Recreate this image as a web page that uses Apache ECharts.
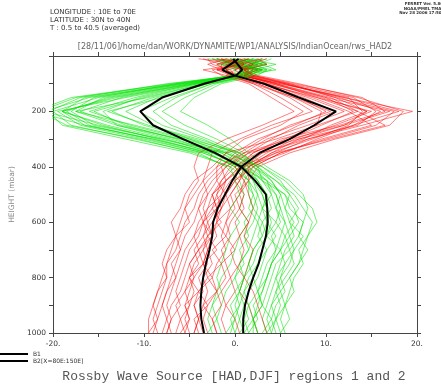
<!DOCTYPE html>
<html><head><meta charset="utf-8">
<script src="https://cdn.jsdelivr.net/npm/echarts@6/dist/echarts.min.js"></script>
<style>html,body{margin:0;padding:0;background:#fff}#c{width:441px;height:384px}</style>
</head><body><div id="c"></div>
<script>
// pressure levels (mbar)
var levels = [10, 30, 50, 70, 100, 150, 200, 250, 300, 350, 400, 450, 500, 550, 600, 650, 700, 750, 800, 850, 900, 950, 1000];
// black mean profiles
var b1 = [0.4, -0.5, -1.4, -0.1, 3.2, 7.0, 11.1, 8.7, 6.0, 2.7, 0.7, -0.3, -1.1, -1.9, -2.4, -2.5, -2.8, -3.2, -3.5, -3.7, -3.8, -3.7, -3.4];
var b2 = [-0.2, 0.3, 0.8, 0.1, -3.4, -8.0, -10.4, -9.0, -5.7, -2.2, 0.7, 2.2, 3.4, 3.55, 3.6, 3.4, 3.0, 2.6, 2.0, 1.5, 1.1, 0.9, 0.9];
// individual red profiles
var redMembers = [
 [-1.5, 1.0, -2.0, 0.5, 5.0, 12.0, 19.5, 14.0, 8.0, 3.0, 0.5, -1.0, -2.5, -3.0, -4.0, -4.5, -5.5, -6.0, -6.5, -7.5, -8.0, -8.5, -9.0],
 [2.0, -1.0, 1.5, 1.0, 4.0, 9.5, 14.5, 12.0, 7.0, 4.0, 1.5, 0.0, -1.0, -1.5, -2.5, -2.0, -3.0, -3.5, -3.0, -4.0, -4.5, -4.0, -4.5],
 [-3.0, -2.5, -0.5, 0.0, 3.0, 7.0, 10.0, 6.5, 2.5, 0.0, -1.5, -3.0, -4.0, -4.5, -5.5, -6.0, -6.5, -7.5, -8.0, -8.5, -9.0, -9.5, -9.5],
 [1.0, 3.0, 0.5, 2.0, 6.0, 11.0, 17.5, 15.5, 10.0, 5.0, 2.0, 1.0, 0.5, 1.0, 0.0, 0.5, -0.5, 0.0, 1.0, 0.5, 1.5, 2.0, 2.5],
 [-0.5, 0.5, -3.5, -1.0, 2.5, 6.0, 8.5, 4.0, 0.5, -2.5, -3.0, -3.5, -3.0, -4.0, -3.5, -4.5, -4.0, -5.0, -4.5, -5.5, -5.0, -6.0, -5.5],
 [3.5, 1.5, 2.0, 0.5, 4.5, 10.0, 13.0, 9.5, 6.0, 2.5, 0.0, -1.5, -2.0, -2.5, -3.5, -3.0, -4.0, -5.0, -5.5, -6.0, -7.0, -7.5, -7.0],
 [0.0, -1.5, 1.0, 2.5, 7.0, 13.5, 18.5, 17.0, 11.0, 6.0, 2.5, 1.5, 0.5, -0.5, -1.0, -1.5, -1.0, -2.0, -2.5, -2.0, -3.0, -3.5, -3.0],
 [-2.0, 2.5, -1.0, 0.0, 3.5, 8.0, 12.0, 8.0, 3.5, 1.0, -1.0, -2.5, -3.5, -4.0, -4.5, -5.5, -6.0, -6.5, -7.0, -7.5, -8.0, -7.5, -8.0],
 [1.5, 0.0, 3.0, 1.5, 5.5, 11.5, 16.0, 13.0, 9.0, 5.5, 1.0, 0.5, -0.5, 0.0, -1.0, -0.5, -1.5, -1.0, -0.5, -1.5, -1.0, 0.0, 0.5],
 [-1.0, -3.0, -1.5, -0.5, 2.0, 5.0, 7.5, 5.0, 1.0, -1.0, -2.0, -2.0, -3.0, -3.5, -3.0, -3.5, -4.5, -4.0, -5.0, -4.5, -5.0, -5.5, -5.0],
 [2.5, 2.0, 0.0, 1.0, 4.5, 9.0, 15.0, 11.0, 6.5, 3.5, 1.0, -0.5, -1.5, -2.0, -2.0, -2.5, -3.0, -2.5, -3.5, -3.0, -3.5, -4.0, -3.5],
 [-2.5, -1.0, 2.0, 0.5, 5.0, 12.5, 14.0, 12.5, 8.5, 4.0, 1.5, 0.5, -0.5, -1.5, -2.0, -3.0, -3.5, -4.5, -5.0, -5.5, -6.5, -6.0, -6.5],
 [0.5, 1.0, -2.5, -1.5, 1.5, 4.0, 6.5, 3.0, -1.0, -4.0, -4.5, -4.0, -5.0, -5.5, -6.0, -6.5, -7.0, -7.5, -7.5, -8.0, -8.5, -9.0, -8.5],
 [-4.0, 0.5, 1.0, 2.0, 6.5, 14.0, 16.5, 11.5, 5.0, 2.0, 0.5, 0.0, 1.0, 0.5, 1.5, 1.0, 2.0, 1.5, 1.0, 2.0, 2.5, 3.0, 3.5],
 [1.0, -2.0, -1.0, 0.0, 3.0, 7.5, 11.0, 7.0, 4.0, 1.5, -0.5, -1.5, -2.5, -2.0, -3.0, -2.5, -3.5, -3.0, -4.0, -3.5, -4.5, -4.0, -4.5],
 [-0.5, 1.5, 0.5, 1.5, 4.5, 10.5, 13.5, 16.5, 10.5, 4.5, 0.5, -1.0, -2.0, -1.5, -2.5, -3.5, -3.0, -3.5, -4.5, -5.0, -5.5, -5.0, -5.5],
 [3.0, 0.5, -2.0, -0.5, 2.5, 6.5, 9.5, 9.0, 5.5, 2.0, 0.0, 1.0, 1.5, 2.0, 1.5, 0.5, 1.0, 0.5, -0.5, 0.0, -1.0, -1.5, -1.0],
 [-1.5, -0.5, 1.5, 1.0, 5.5, 11.0, 14.5, 10.5, 7.5, 3.0, 1.0, -1.0, -1.5, -3.0, -3.5, -4.0, -5.0, -5.5, -6.0, -6.5, -6.0, -7.0, -7.5],
 [0.5, 2.0, 1.0, 1.5, 6.0, 13.0, 15.5, 13.5, 7.0, 1.5, -1.0, -2.0, -1.0, -2.5, -1.5, -3.0, -2.0, -3.5, -2.5, -4.0, -3.0, -4.5, -4.0],
 [-2.0, 0.0, -1.0, 0.5, 3.5, 8.5, 12.5, 15.0, 9.5, 5.0, 2.0, 0.0, -1.0, -0.5, -2.0, -1.0, -2.5, -1.5, -3.0, -2.0, -3.5, -2.5, -2.0],
 [1.5, -0.5, 2.5, 1.0, 4.0, 10.0, 17.0, 12.0, 6.0, 1.0, -2.0, -3.5, -4.5, -5.5, -5.0, -6.5, -6.0, -7.0, -6.5, -7.0, -7.5, -7.0, -7.5],
 [-1.0, 1.0, 0.0, -1.0, 2.0, 6.5, 10.5, 6.0, 3.0, 0.5, -1.5, -1.0, -2.5, -2.0, -3.5, -2.5, -4.0, -3.5, -5.0, -4.0, -5.5, -5.0, -6.0],
 [2.5, 3.5, 1.0, 2.0, 5.5, 12.0, 18.0, 13.0, 8.0, 4.5, 1.5, 1.5, 0.0, 0.5, -0.5, -1.0, 0.0, -1.5, -1.0, -2.0, -1.5, -2.5, -2.0],
 [-3.5, -1.5, -1.5, 0.0, 3.0, 9.0, 13.5, 9.0, 4.5, -1.0, -2.5, -4.5, -5.5, -6.0, -7.0, -6.5, -7.5, -8.0, -7.5, -8.5, -9.0, -8.5, -9.5]
];
// individual green profiles
var greenMembers = [
 [2.0, 3.5, 1.0, 0.5, -6.0, -16.0, -21.0, -15.0, -8.0, -2.0, 1.0, 3.0, 4.5, 5.0, 4.5, 5.5, 5.0, 4.0, 3.5, 3.0, 2.0, 2.5, 1.5],
 [-1.5, 0.5, 2.5, 1.0, -4.0, -12.0, -19.5, -17.0, -10.0, -3.5, 0.5, 2.0, 3.0, 3.5, 4.0, 3.5, 3.0, 2.5, 1.5, 1.0, 0.5, 0.0, -0.5],
 [3.5, 1.5, 4.0, 2.0, -3.0, -8.5, -12.0, -9.0, -5.0, -1.0, 2.5, 4.5, 6.5, 7.5, 8.5, 8.0, 7.0, 7.5, 6.5, 6.0, 5.5, 5.0, 5.5],
 [0.0, -2.0, 1.5, 0.0, -7.0, -18.0, -22.0, -16.5, -9.0, -3.0, 0.0, 1.0, 2.0, 1.5, 2.5, 2.0, 1.5, 0.5, 0.0, -1.0, -1.5, -2.0, -1.5],
 [4.0, 2.5, 0.5, 1.5, -2.5, -6.5, -9.0, -7.0, -3.0, 0.5, 3.0, 5.0, 6.0, 5.5, 6.0, 6.5, 5.5, 5.0, 4.5, 4.0, 3.5, 3.0, 3.5],
 [-2.5, 1.0, 3.0, -0.5, -5.5, -14.5, -17.5, -13.0, -7.0, -1.5, 1.5, 2.5, 3.5, 4.0, 3.0, 3.5, 2.5, 2.0, 1.0, 0.5, 1.0, 0.5, 0.0],
 [1.0, 4.5, 2.0, 1.0, -3.5, -10.0, -15.5, -12.0, -6.5, -2.0, 0.5, 3.5, 5.5, 6.5, 7.0, 6.0, 6.5, 5.5, 5.0, 4.5, 4.0, 3.5, 4.0],
 [-1.0, -1.0, 0.0, 0.5, -6.5, -15.0, -20.0, -18.0, -11.0, -4.0, -1.0, 0.5, 1.0, 0.5, 1.5, 0.5, 0.0, -0.5, -1.5, -2.0, -2.5, -3.0, -2.5],
 [2.5, 0.0, 3.5, 2.5, -1.5, -4.5, -6.0, -3.0, -0.5, 1.5, 3.5, 6.0, 7.5, 8.0, 7.5, 7.0, 8.0, 7.0, 6.0, 6.5, 5.5, 6.0, 5.0],
 [0.5, 2.0, -1.0, 0.0, -5.0, -13.0, -19.0, -14.0, -7.5, -2.5, 1.0, 2.0, 2.5, 3.0, 2.5, 3.0, 2.0, 1.5, 2.0, 1.0, 1.5, 1.0, 1.5],
 [-3.0, 1.5, 2.0, 1.5, -4.5, -11.0, -16.0, -11.5, -5.5, -0.5, 2.0, 3.5, 4.0, 4.5, 5.0, 4.0, 4.5, 3.5, 3.0, 2.5, 3.0, 2.0, 2.5],
 [1.5, 3.0, 4.5, 0.5, -7.5, -17.0, -20.5, -19.0, -12.0, -5.0, -0.5, 1.5, 2.0, 2.5, 2.0, 1.0, 1.5, 0.5, 1.0, 0.0, 0.5, -0.5, 0.0],
 [3.0, -0.5, 1.0, 2.0, -2.0, -5.5, -8.0, -5.5, -2.0, 1.0, 2.0, 4.0, 5.0, 5.5, 6.5, 5.5, 6.0, 4.5, 4.0, 3.5, 3.0, 4.0, 3.0],
 [-0.5, 2.5, 1.5, 1.0, -6.0, -16.5, -19.0, -14.5, -8.5, -3.0, 0.0, 1.5, 1.5, 2.0, 1.0, 1.5, 0.5, 1.0, 0.0, 0.5, -0.5, 0.0, -1.0],
 [2.0, 1.0, 2.5, -0.5, -3.0, -9.0, -13.5, -10.0, -4.5, 0.0, 2.5, 4.0, 5.0, 4.5, 5.5, 5.0, 4.5, 4.0, 3.5, 3.0, 2.5, 2.0, 2.5],
 [0.0, 3.0, 0.5, 1.5, -5.0, -14.0, -18.5, -16.0, -9.5, -3.5, 0.5, 2.5, 3.5, 3.0, 3.5, 4.5, 3.5, 3.0, 2.5, 1.5, 1.0, 1.5, 0.5],
 [1.5, -1.5, 3.0, 0.0, -4.0, -10.5, -14.5, -13.0, -6.0, -1.0, 3.0, 5.5, 7.0, 8.5, 9.0, 8.0, 7.5, 7.0, 6.0, 5.0, 5.5, 4.5, 5.0],
 [-2.0, 0.0, 2.0, 1.0, -4.5, -12.5, -17.0, -12.5, -6.0, -1.5, 1.0, 2.5, 3.0, 3.5, 3.5, 3.0, 2.0, 1.5, 1.0, 0.5, 0.0, 0.5, 1.0],
 [1.0, 2.0, 3.5, 1.0, -5.5, -15.5, -18.0, -15.5, -8.0, -1.0, 1.5, 3.0, 4.0, 3.0, 4.5, 3.5, 5.0, 4.0, 3.5, 2.5, 3.0, 2.0, 2.0],
 [-1.0, 3.5, 1.0, 0.5, -3.5, -9.5, -17.5, -11.0, -5.0, 0.5, 2.0, 4.5, 6.0, 7.0, 6.0, 7.5, 6.5, 6.0, 5.0, 5.5, 4.5, 4.0, 4.5],
 [2.0, 0.5, 0.0, 0.0, -6.5, -17.5, -21.5, -18.5, -10.5, -4.5, -0.5, 0.0, 0.5, -0.5, 0.5, -0.5, -1.0, -1.5, -2.0, -1.5, -2.5, -2.0, -3.0],
 [0.0, 1.0, 2.5, 2.0, -2.5, -7.0, -10.5, -8.0, -3.5, 0.0, 1.5, 3.5, 4.5, 5.0, 5.5, 6.0, 5.0, 5.5, 4.5, 5.0, 4.0, 4.5, 3.5],
 [3.0, 2.0, 1.5, 1.0, -4.5, -13.5, -19.0, -16.5, -9.0, -2.5, 0.5, 1.5, 2.5, 2.0, 3.0, 2.5, 3.5, 2.5, 2.0, 2.5, 1.5, 2.0, 1.0],
 [-2.0, -0.5, 3.0, 1.5, -3.0, -8.0, -14.0, -9.5, -4.0, 0.5, 2.5, 3.0, 5.5, 6.0, 7.5, 7.0, 6.0, 6.5, 5.5, 4.5, 5.0, 4.5, 4.0]
];
var xTickLabels = {'-20': '-20.', '-10': '-10.', '0': '0.', '10': '10.', '20': '20.'};
var yTickLabels = {'200': '200', '400': '400', '600': '600', '800': '800', '1000': '1000'};
var legendNames = ['B1', 'B2[X=80E:150E]'];

function profile(vals) { return levels.map(function (p, i) { return [vals[i], p]; }); }

var series = [];
var n = Math.max(redMembers.length, greenMembers.length);
for (var i = 0; i < n; i++) {
  if (greenMembers[i]) series.push({type: 'line', name: 'g' + i, data: profile(greenMembers[i]), showSymbol: false, silent: true, clip: true,
    lineStyle: {width: 1, color: 'rgba(0,225,0,0.55)'}, z: 2});
  if (redMembers[i]) series.push({type: 'line', name: 'r' + i, data: profile(redMembers[i]), showSymbol: false, silent: true, clip: true,
    lineStyle: {width: 1, color: 'rgba(255,0,0,0.5)'}, z: 2});
}
series.push({type: 'line', name: legendNames[0], data: profile(b1), showSymbol: false, clip: true, lineStyle: {width: 2, color: '#000'}, itemStyle: {color: '#000'}, z: 5});
series.push({type: 'line', name: legendNames[1], data: profile(b2), showSymbol: false, clip: true, lineStyle: {width: 2, color: '#000'}, itemStyle: {color: '#000'}, z: 5});

var axisCol = '#444';
var font = 'DejaVu Sans';
function axisLineStyle() { return {show: true, onZero: false, lineStyle: {color: axisCol, width: 1}}; }
function tickStyle() { return {show: true, inside: false, length: 4, lineStyle: {color: axisCol}}; }
var chart = echarts.init(document.getElementById('c'), null, {renderer: 'canvas'});
chart.setOption({
  animation: false,
  backgroundColor: '#fff',
  grid: {left: 50, right: 24, top: 56, bottom: 51, containLabel: false},
  xAxis: [
    {type: 'value', position: 'bottom', min: -20, max: 20, interval: 5,
     axisLine: axisLineStyle(), axisTick: tickStyle(), splitLine: {show: false},
     axisLabel: {margin: 7, fontSize: 7.5, fontFamily: font, color: '#333',
       formatter: function (v) { return xTickLabels[String(v)] || ''; }}},
    {type: 'value', position: 'top', min: -20, max: 20, interval: 5,
     axisLine: axisLineStyle(), axisTick: tickStyle(), splitLine: {show: false}, axisLabel: {show: false}}
  ],
  yAxis: [
    {type: 'value', position: 'left', inverse: true, min: 0, max: 1000, interval: 100,
     name: 'HEIGHT (mbar)', nameLocation: 'middle', nameGap: 27, nameRotate: 90,
     nameTextStyle: {fontSize: 7.5, fontFamily: font, color: '#888'},
     axisLine: axisLineStyle(), axisTick: tickStyle(), splitLine: {show: false},
     axisLabel: {margin: 7, fontSize: 7.5, fontFamily: font, color: '#333',
       formatter: function (v) { return yTickLabels[String(v)] || ''; }}},
    {type: 'value', position: 'right', inverse: true, min: 0, max: 1000, interval: 100,
     axisLine: axisLineStyle(), axisTick: tickStyle(), splitLine: {show: false}, axisLabel: {show: false}}
  ],
  legend: {data: legendNames, orient: 'vertical', left: 0, top: 351, itemWidth: 28, itemHeight: 2, itemGap: 1,
    icon: 'rect', textStyle: {fontSize: 6, fontFamily: font, color: '#333'}, padding: 0, selectedMode: false},
  graphic: [
    {type: 'text', left: 50, top: 9, style: {text: 'LONGITUDE : 10E to 70E', font: '7px "DejaVu Sans"', fill: '#333'}},
    {type: 'text', left: 50, top: 17, style: {text: 'LATITUDE : 30N to 40N', font: '7px "DejaVu Sans"', fill: '#333'}},
    {type: 'text', left: 50, top: 25, style: {text: 'T : 0.5 to 40.5 (averaged)', font: '7px "DejaVu Sans"', fill: '#333'}},
    {type: 'text', x: 424, y: 2, style: {text: 'FERRET Ver. 5.80\nNOAA/PMEL TMAP\nNov 28 2006 17:50:04', font: 'bold 4px "DejaVu Sans"', fill: '#333', align: 'center', lineHeight: 4.5}},
    {type: 'text', x: 235, y: 43, style: {text: '[28/11/06]/home/dan/WORK/DYNAMITE/WP1/ANALYSIS/IndianOcean/rws_HAD2', font: '8px "DejaVu Sans"', fill: '#666', align: 'center'}},
    {type: 'text', x: 234, y: 370, style: {text: 'Rossby Wave Source [HAD,DJF] regions 1 and 2', font: '13px "Liberation Mono"', fill: '#555', align: 'center'}}
  ],
  series: series
});
</script></body></html>
